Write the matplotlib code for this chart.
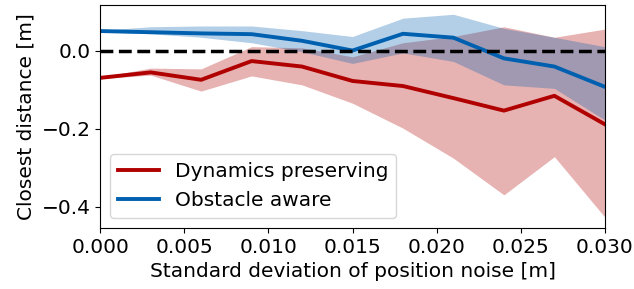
import numpy as np
import matplotlib.pyplot as plt

# Position noise std [m]
noise = [0.0, 0.003, 0.006, 0.009, 0.012, 0.015, 0.018, 0.021, 0.024, 0.027, 0.030]

# Dynamics preserving
dyn_mean = [-0.069, -0.055, -0.074, -0.026, -0.040, -0.077, -0.090, -0.121, -0.153, -0.115, -0.188]
dyn_low = [-0.071, -0.062, -0.103, -0.064, -0.087, -0.134, -0.198, -0.275, -0.369, -0.271, -0.426]
dyn_high = [-0.067, -0.044, -0.046, 0.011, 0.008, -0.015, 0.021, 0.037, 0.062, 0.035, 0.056]

# Obstacle aware
obs_mean = [0.051, 0.048, 0.045, 0.043, 0.026, 0.001, 0.044, 0.034, -0.019, -0.040, -0.092]
obs_low = [0.049, 0.044, 0.035, 0.021, -0.002, -0.032, -0.005, -0.027, -0.087, -0.096, -0.177]
obs_high = [0.053, 0.062, 0.064, 0.064, 0.052, 0.037, 0.084, 0.094, 0.058, 0.035, 0.011]

red = '#b00000'
blue = '#0060b0'
fs = 14.5

fig = plt.figure(figsize=(6.34, 2.89), dpi=100)
ax = fig.add_axes([0.158, 0.211, 0.796, 0.772])

ax.fill_between(noise, dyn_low, dyn_high, color=red, alpha=0.3, linewidth=0)
ax.fill_between(noise, obs_low, obs_high, color=blue, alpha=0.3, linewidth=0)
ax.plot(noise, dyn_mean, color=red, lw=2.8, label='Dynamics preserving')
ax.plot(noise, obs_mean, color=blue, lw=2.8, label='Obstacle aware')
ax.axhline(0, color='black', ls='--', lw=2.5)

ax.set_xlim(0, 0.030)
ax.set_ylim(-0.454, 0.118)
ax.set_yticks([-0.4, -0.2, 0.0])
ax.set_xticks([0.0, 0.005, 0.01, 0.015, 0.02, 0.025, 0.03])
ax.set_xticklabels(['0.000', '0.005', '0.010', '0.015', '0.020', '0.025', '0.030'])
ax.tick_params(labelsize=fs)

ax.set_xlabel("Standard deviation of position noise [m]", fontsize=fs)
ax.set_ylabel("Closest distance [m]", fontsize=fs)
ax.legend(loc='lower left', fontsize=fs)

fig.savefig('out.png', dpi=100)
